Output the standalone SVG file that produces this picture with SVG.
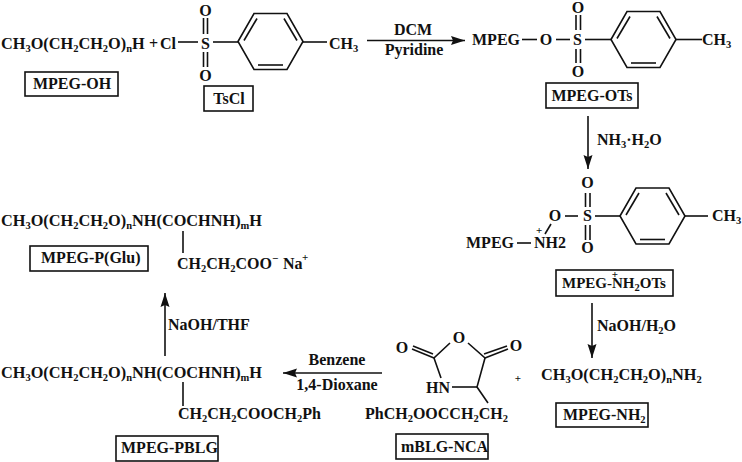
<svg xmlns="http://www.w3.org/2000/svg" width="742" height="462" viewBox="0 0 742 462">
<style>
text{font-family:"Liberation Serif","Times New Roman",serif;font-weight:bold;font-size:16px;fill:#111}
.f{font-size:16.3px}
.s{font-size:10.5px}
.r{font-size:16px}
.n{font-size:15px}
.c{text-anchor:middle}
.sm{font-size:11px}
line,polyline,polygon.l{stroke:#111;stroke-width:1.6;fill:none}
.box{fill:#fff;stroke:#111;stroke-width:1.6}
.a{marker-end:url(#arrow)}
</style>
<defs>
<marker id="arrow" markerUnits="userSpaceOnUse" markerWidth="15" markerHeight="11" refX="14" refY="5.500" orient="auto"><path d="M0,1 L14,5.500 L0,10 L2,5.500 Z" fill="#111"/></marker>
<g id="ring"><polygon class="l" points="0,0 16,-28 49,-28 65,0 49,28 16,28"/><line x1="6" y1="-1" x2="19" y2="-23"/><line x1="46" y1="-23" x2="59" y2="-1"/><line x1="20" y1="23.500" x2="45" y2="23.500"/></g>
</defs>
<rect width="742" height="462" fill="#fff"/>
<g id="connectors">
<line class="a" x1="367" y1="40.500" x2="465" y2="40.500"/>
<line class="a" x1="588" y1="116" x2="588" y2="169"/>
<line class="a" x1="592" y1="303" x2="592" y2="358"/>
<line class="a" x1="382" y1="373" x2="283" y2="373"/>
<line class="a" x1="165" y1="356" x2="165" y2="293"/>
</g>
<g id="mpeg-oh">
<text class="f" x="1" y="48.500">CH<tspan class="s" dy="3">3</tspan><tspan dy="-3">O(CH</tspan><tspan class="s" dy="3">2</tspan><tspan dy="-3">CH</tspan><tspan class="s" dy="3">2</tspan><tspan dy="-3">O)</tspan><tspan class="s" dy="3">n</tspan><tspan dy="-3">H</tspan></text>
<rect class="box" x="25" y="72" width="93" height="24"/>
<text class="c" x="72" y="89">MPEG-OH</text>
</g>
<text x="149" y="48.500">+</text>
<g id="tscl">
<text x="160" y="48.500">Cl</text>
<line x1="178" y1="42" x2="198" y2="42"/>
<text class="c" x="205.500" y="48.500">S</text>
<text class="c" x="205.500" y="15.500">O</text>
<text class="c" x="205.500" y="80.500">O</text>
<line x1="203.500" y1="18" x2="203.500" y2="34"/><line x1="207.500" y1="18" x2="207.500" y2="34"/>
<line x1="203.500" y1="52" x2="203.500" y2="67"/><line x1="207.500" y1="52" x2="207.500" y2="67"/>
<line x1="213" y1="42" x2="238" y2="42"/>
<use href="#ring" x="238" y="41.500"/>
<line x1="303" y1="42" x2="327" y2="42"/>
<text x="329" y="48.500">CH<tspan class="s" dy="3">3</tspan></text>
<rect class="box" x="204" y="86" width="49" height="25"/>
<text class="c" x="229" y="104">TsCl</text>
</g>
<g id="cond1">
<text class="c r" x="413" y="35">DCM</text>
<text class="c r" x="414" y="55">Pyridine</text>
</g>
<g id="mpeg-ots">
<text x="472" y="45">MPEG</text>
<line x1="522" y1="39.500" x2="537" y2="39.500"/>
<text class="c" x="546" y="45">O</text>
<line x1="556" y1="39.500" x2="570" y2="39.500"/>
<text class="c" x="577.500" y="45">S</text>
<text class="c" x="578" y="13">O</text>
<text class="c" x="578" y="77">O</text>
<line x1="576" y1="15" x2="576" y2="30"/><line x1="580.500" y1="15" x2="580.500" y2="30"/>
<line x1="576" y1="49" x2="576" y2="63"/><line x1="580.500" y1="49" x2="580.500" y2="63"/>
<line x1="585" y1="39.500" x2="611" y2="39.500"/>
<use href="#ring" x="611" y="39.500"/>
<line x1="676" y1="39.500" x2="702" y2="39.500"/>
<text x="702" y="45">CH<tspan class="s" dy="3">3</tspan></text>
<rect class="box" x="546" y="83" width="92" height="25"/>
<text class="c" x="592" y="101">MPEG-OTs</text>
</g>
<text class="r" x="597" y="145">NH<tspan class="s" dy="3">3</tspan><tspan dy="-3">·H</tspan><tspan class="s" dy="3">2</tspan><tspan dy="-3">O</tspan></text>
<g id="mpeg-nh2ots">
<text x="466" y="248">MPEG</text>
<line x1="517" y1="243" x2="531" y2="243"/>
<text x="534" y="248">NH2</text>
<text class="sm" x="536" y="234">+</text>
<line x1="551" y1="224" x2="545" y2="234"/>
<text class="c" x="555" y="221">O</text>
<line x1="565" y1="216" x2="578" y2="216"/>
<text class="c" x="587.500" y="221">S</text>
<text class="c" x="587.500" y="188">O</text>
<text class="c" x="587.500" y="253">O</text>
<line x1="585.500" y1="193" x2="585.500" y2="207"/><line x1="590" y1="193" x2="590" y2="207"/>
<line x1="585.500" y1="225" x2="585.500" y2="240"/><line x1="590" y1="225" x2="590" y2="240"/>
<line x1="595" y1="216" x2="620" y2="216"/>
<use href="#ring" x="620" y="216"/>
<line x1="685" y1="216" x2="708" y2="216"/>
<text x="712" y="221">CH<tspan class="s" dy="3">3</tspan></text>
<rect class="box" x="556" y="270" width="117" height="26"/>
<text class="n" x="562" y="288">MPEG-NH<tspan class="s" dy="3">2</tspan><tspan dy="-3">OTs</tspan></text>
<text class="sm c" x="615" y="278">+</text>
</g>
<text class="r" x="597" y="331">NaOH/H<tspan class="s" dy="3">2</tspan><tspan dy="-3">O</tspan></text>
<g id="mpeg-nh2">
<text class="f" x="541" y="380">CH<tspan class="s" dy="3">3</tspan><tspan dy="-3">O(CH</tspan><tspan class="s" dy="3">2</tspan><tspan dy="-3">CH</tspan><tspan class="s" dy="3">2</tspan><tspan dy="-3">O)</tspan><tspan class="s" dy="3">n</tspan><tspan dy="-3">NH</tspan><tspan class="s" dy="3">2</tspan></text>
<rect class="box" x="556" y="403" width="92" height="24"/>
<text x="563" y="420">MPEG-NH<tspan class="s" dy="3">2</tspan></text>
</g>
<text class="sm c" x="518" y="382">+</text>
<g id="mblg-nca">
<text class="c" x="459" y="343">O</text>
<text class="c" x="402" y="353">O</text>
<text class="c" x="516" y="351">O</text>
<polyline points="450,343 434,358 441,378"/>
<polyline points="468,343 485,358 477,387 488,403"/>
<line x1="452" y1="387" x2="477" y2="387"/>
<line x1="434" y1="358" x2="412" y2="349"/><line x1="433" y1="354" x2="413" y2="346"/>
<line x1="485" y1="358" x2="508" y2="349"/><line x1="484" y1="354" x2="507" y2="346"/>
<text x="426" y="393">HN</text>
<text x="365" y="419">PhCH<tspan class="s" dy="3">2</tspan><tspan dy="-3">OOCCH</tspan><tspan class="s" dy="3">2</tspan><tspan dy="-3">CH</tspan><tspan class="s" dy="3">2</tspan></text>
<rect class="box" x="396" y="434" width="92" height="25"/>
<text x="401" y="452">mBLG-NCA</text>
</g>
<g id="cond4">
<text class="c r" x="337" y="365">Benzene</text>
<text class="c r" x="337" y="390">1,4-Dioxane</text>
</g>
<g id="mpeg-pblg">
<text class="f" x="1" y="378">CH<tspan class="s" dy="3">3</tspan><tspan dy="-3">O(CH</tspan><tspan class="s" dy="3">2</tspan><tspan dy="-3">CH</tspan><tspan class="s" dy="3">2</tspan><tspan dy="-3">O)</tspan><tspan class="s" dy="3">n</tspan><tspan dy="-3">NH(COCHNH)</tspan><tspan class="s" dy="3">m</tspan><tspan dy="-3">H</tspan></text>
<line x1="183" y1="382" x2="183" y2="406"/>
<text x="178" y="419">CH<tspan class="s" dy="3">2</tspan><tspan dy="-3">CH</tspan><tspan class="s" dy="3">2</tspan><tspan dy="-3">COOCH</tspan><tspan class="s" dy="3">2</tspan><tspan dy="-3">Ph</tspan></text>
<rect class="box" x="116" y="436" width="102" height="25"/>
<text x="121" y="453">MPEG-PBLG</text>
</g>
<text class="r" x="168" y="330">NaOH/THF</text>
<g id="mpeg-pglu">
<text class="f" x="1" y="226">CH<tspan class="s" dy="3">3</tspan><tspan dy="-3">O(CH</tspan><tspan class="s" dy="3">2</tspan><tspan dy="-3">CH</tspan><tspan class="s" dy="3">2</tspan><tspan dy="-3">O)</tspan><tspan class="s" dy="3">n</tspan><tspan dy="-3">NH(COCHNH)</tspan><tspan class="s" dy="3">m</tspan><tspan dy="-3">H</tspan></text>
<line x1="183" y1="231" x2="183" y2="253"/>
<text x="177" y="269">CH<tspan class="s" dy="3">2</tspan><tspan dy="-3">CH</tspan><tspan class="s" dy="3">2</tspan><tspan dy="-3">COO</tspan></text>
<text class="sm" x="272" y="262">−</text>
<text x="283" y="269">Na</text>
<text class="sm" x="302" y="261">+</text>
<rect class="box" x="30" y="246" width="118" height="25"/>
<text x="41" y="263">MPEG-P(Glu)</text>
</g>
</svg>
